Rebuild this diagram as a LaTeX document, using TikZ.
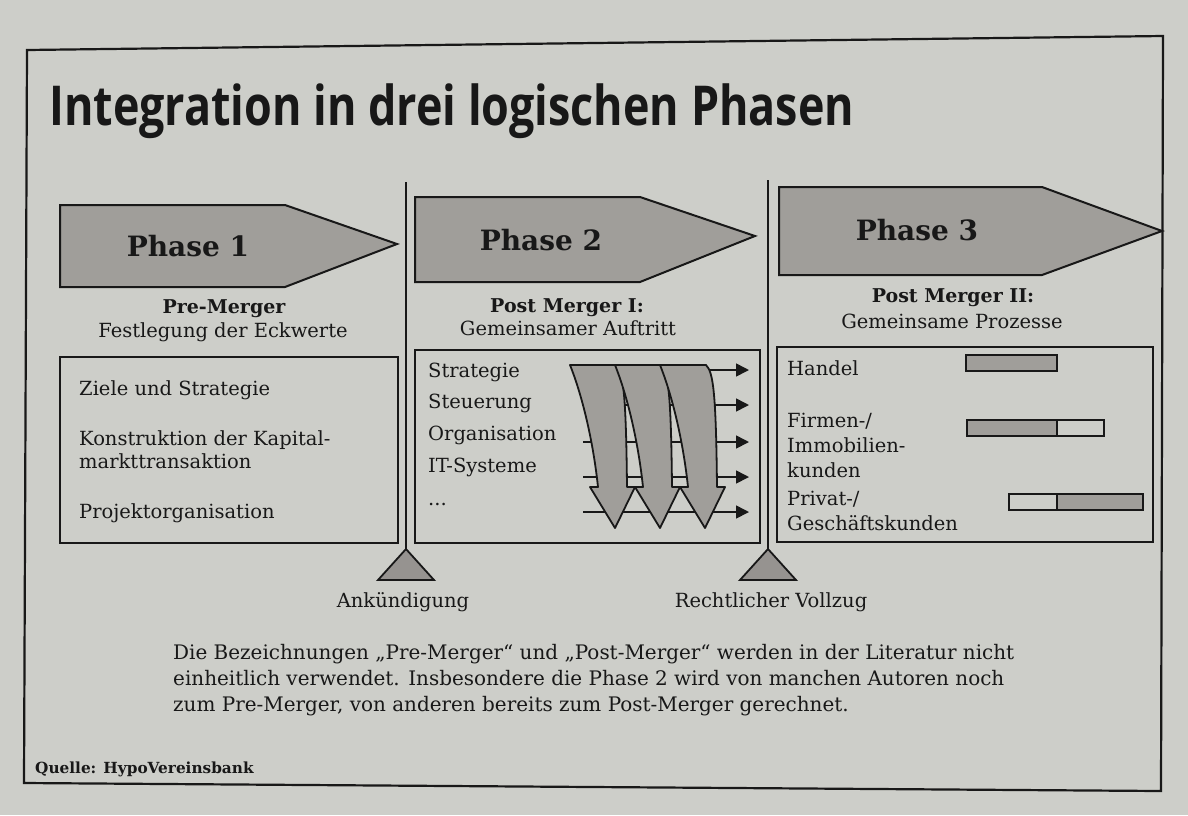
\documentclass[tikz,border=0pt]{standalone}
\usepackage{fontspec}
\usepackage{graphicx}
\usetikzlibrary{arrows.meta}
\newfontfamily\titlefont{Open Sans}
% wide slab-like serif for the body text
\newfontfamily\sch{DejaVu Serif}
\newcommand\fsz[2]{\fontsize{#1}{#2}\selectfont}
\definecolor{paper}{RGB}{205,206,201}
\definecolor{ink}{RGB}{24,24,24}
\definecolor{greyfill}{RGB}{160,158,154}
\definecolor{darkgreyfill}{RGB}{150,147,144}

\tikzset{
  frame/.style={draw=ink, line width=2.2pt},
  chevron/.style={draw=ink, fill=greyfill, line width=2pt, line join=miter},
  panel/.style={draw=ink, line width=2pt},
  sep/.style={draw=ink, line width=1.5pt},
  marker/.style={draw=ink, fill=darkgreyfill, line width=1.8pt, line join=miter},
  flow/.style={draw=ink, line width=1.6pt, -{Triangle[length=13pt,width=13pt]}},
  bigarrow/.style={draw=ink, fill=greyfill, line width=1.8pt, line join=round},
  bar/.style={draw=ink, line width=1.8pt},
  phase/.style={font=\sch\bfseries\fsz{28}{28}, text=ink, inner sep=0pt, anchor=base},
  head/.style={font=\sch\bfseries\fsz{19}{19}, text=ink, inner sep=0pt, anchor=base},
  sub/.style={font=\sch\fsz{19.5}{19.5}, text=ink, inner sep=0pt, anchor=base},
  item/.style={font=\sch\fsz{19.5}{19.5}, text=ink, inner sep=0pt, anchor=base west},
}

\begin{document}
\begin{tikzpicture}[x=1pt,y=-1pt]
\fill[paper] (0,0) rectangle (1188,815);
\useasboundingbox (0,0) rectangle (1188,815);

% outer frame
\draw[frame] (27,50) -- (1163,36) -- (1161,791) -- (24,783) -- cycle;

% title
\node[font=\titlefont\bfseries\fsz{55}{55}, text=ink, inner sep=0pt, anchor=base west]
  (title) at (49,125) {\resizebox{805pt}{\height}{Integration in drei logischen Phasen}};

% phase chevrons
\draw[chevron] (60,205) -- (285,205) -- (397,244) -- (285,287) -- (60,287) -- cycle;
\draw[chevron] (415,197) -- (640,197) -- (755,236) -- (640,282) -- (415,282) -- cycle;
\draw[chevron] (779,187) -- (1042,187) -- (1162,231) -- (1042,275) -- (779,275) -- cycle;
\node[phase] (p1) at (188,256) {Phase 1};
\node[phase] (p2) at (541,250) {Phase 2};
\node[phase] (p3) at (917,240) {Phase 3};

% phase headings
\node[head] (h1) at (224,313) {Pre-Merger};
\node[sub]  (s1) at (223,337) {Festlegung der Eckwerte};
\node[head] (h2) at (567,312) {Post Merger I:};
\node[sub]  (s2) at (568,335) {Gemeinsamer Auftritt};
\node[head] (h3) at (953,302) {Post Merger II:};
\node[sub]  (s3) at (952,328) {Gemeinsame Prozesse};

% separators and milestones
\coordinate (t1top) at (406,182);
\coordinate (t1) at (406,549);
\coordinate (t2top) at (768,180);
\coordinate (t2) at (768,549);
\draw[sep] (t1top) -- (t1);
\draw[sep] (t2top) -- (t2);
\draw[marker] (t1) -- (434,580) -- (378,580) -- cycle;
\draw[marker] (t2) -- (796,580) -- (740,580) -- cycle;
\node[sub] (ank) at (403,607) {Ank\"undigung};
\node[sub] (voll) at (771,607) {Rechtlicher Vollzug};

% panel 1
\draw[panel] (60,357) rectangle (398,543);
\node[item] (a1) at (79,395) {Ziele und Strategie};
\node[item] (a2) at (79,445) {Konstruktion der Kapital-};
\node[item] (a3) at (79,468) {markttransaktion};
\node[item] (a4) at (79,518) {Projektorganisation};

% panel 2
\draw[panel] (415,350) rectangle (760,543);
\node[item] (b1) at (428,377) {Strategie};
\node[item] (b2) at (428,408) {Steuerung};
\node[item] (b3) at (428,440) {Organisation};
\node[item] (b4) at (428,472) {IT-Systeme};
\node[item] (b5) at (428,505) {...};

% horizontal flows behind the sweeping arrows
\coordinate (fs0) at (700,370);
\coordinate (fe0) at (749,370);
\draw[flow] (fs0) -- (fe0);
\foreach \y [count=\i] in {405,442,477,512} {
  \coordinate (fs\i) at (583,\y);
  \coordinate (fe\i) at (749,\y);
  \draw[flow] (fs\i) -- (fe\i);
}

% three sweeping downward arrows, each overlapping its left neighbour at the top
\foreach \d in {0,45,90} {
  \filldraw[bigarrow]
    (570+\d,365) -- (616+\d,365)
    .. controls (623+\d,372) and (626+\d,390) .. (627+\d,487)
    -- (635+\d,487) -- (615+\d,528) -- (590+\d,487) -- (598+\d,487)
    .. controls (593+\d,440) and (582+\d,395) .. (570+\d,365) -- cycle;
}

% panel 3
\draw[panel] (777,347) rectangle (1153,542);
\node[item] (c1) at (787,375) {Handel};
\node[item] (c2) at (787,427) {Firmen-/};
\node[item] (c3) at (787,452) {Immobilien-};
\node[item] (c4) at (787,477) {kunden};
\node[item] (c5) at (787,505) {Privat-/};
\node[item] (c6) at (787,530) {Gesch\"aftskunden};
\fill[greyfill] (966,355) rectangle (1057,371);
\draw[bar] (966,355) rectangle (1057,371);
\fill[greyfill] (967,420) rectangle (1057,436);
\draw[bar] (967,420) rectangle (1104,436);
\draw[bar] (1057,420) -- (1057,436);
\fill[greyfill] (1057,494) rectangle (1143,510);
\draw[bar] (1009,494) rectangle (1143,510);
\draw[bar] (1057,494) -- (1057,510);

% note
\node[font=\sch\fsz{20}{26}, text=ink, inner sep=0pt, anchor=north west] (note) at (173,641)
  {\resizebox{841pt}{\height}{\begin{tabular}{@{}l@{}}
   Die Bezeichnungen \quotedblbase Pre-Merger\textquotedblleft\ und \quotedblbase Post-Merger\textquotedblleft\ werden in der Literatur nicht\\
   einheitlich verwendet. Insbesondere die Phase 2 wird von manchen Autoren noch\\
   zum Pre-Merger, von anderen bereits zum Post-Merger gerechnet.
   \end{tabular}}};

% source
\node[font=\sch\bfseries\fsz{15.3}{15.3}, text=ink, inner sep=0pt, anchor=base west] (src) at (35,773) {Quelle: HypoVereinsbank};
\end{tikzpicture}
\end{document}
